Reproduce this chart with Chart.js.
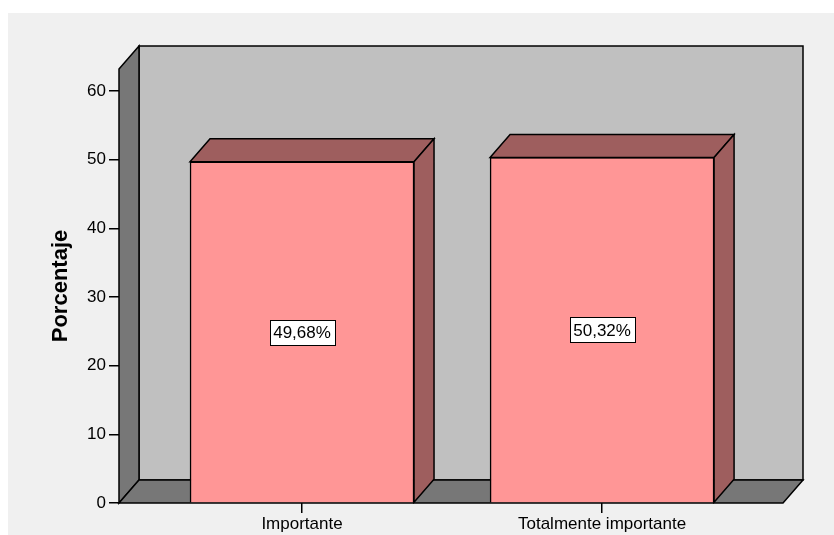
<!DOCTYPE html>
<html>
<head>
<meta charset="utf-8">
<script src="https://cdn.jsdelivr.net/npm/chart.js@4/dist/chart.umd.min.js"></script>
<style>
    html, body { margin: 0; padding: 0; background: #ffffff; }
    canvas { display: block; }
</style>
</head>
<body>
<canvas id="chart" width="834" height="535"></canvas>
<script>
// Data
const categories = ['Importante', 'Totalmente importante'];
const percentages = [49.68, 50.32];
const percentLabels = ['49,68%', '50,32%'];
const yTicks = [0, 10, 20, 30, 40, 50, 60];
const yMax = 63.2;

const FONT = '"Liberation Sans", Arial, sans-serif';
const DEPTH_X = 20;
const DEPTH_Y = -23;

function poly(ctx, pts, fill) {
    ctx.beginPath();
    ctx.moveTo(pts[0][0], pts[0][1]);
    for (let i = 1; i < pts.length; i++) ctx.lineTo(pts[i][0], pts[i][1]);
    ctx.closePath();
    ctx.fillStyle = fill;
    ctx.fill();
    ctx.stroke();
}

// Panel background, walls and floor of the 3D frame
const framePlugin = {
    id: 'frame3d',
    beforeDraw(chart) {
        const ctx = chart.ctx;
        ctx.save();
        ctx.fillStyle = '#ffffff';
        ctx.fillRect(0, 0, chart.width, chart.height);
        ctx.fillStyle = '#f0f0f0';
        ctx.fillRect(8, 13, chart.width - 8, chart.height - 13);
        ctx.restore();
    },
    beforeDatasetsDraw(chart) {
        const ctx = chart.ctx;
        const y = chart.scales.y;
        const x = chart.scales.x;
        const l = x.left, r = x.right;
        const t = y.getPixelForValue(yMax), b = y.getPixelForValue(0);
        ctx.save();
        ctx.strokeStyle = '#000';
        ctx.lineWidth = 1.5;
        ctx.lineJoin = 'miter';
        // back wall
        poly(ctx, [[l + DEPTH_X, t + DEPTH_Y], [r + DEPTH_X, t + DEPTH_Y], [r + DEPTH_X, b + DEPTH_Y], [l + DEPTH_X, b + DEPTH_Y]], '#c0c0c0');
        // left wall
        poly(ctx, [[l, t], [l + DEPTH_X, t + DEPTH_Y], [l + DEPTH_X, b + DEPTH_Y], [l, b]], '#777777');
        // floor
        poly(ctx, [[l, b], [l + DEPTH_X, b + DEPTH_Y], [r + DEPTH_X, b + DEPTH_Y], [r, b]], '#777777');
        ctx.restore();
    },
    afterDatasetsDraw(chart) {
        const ctx = chart.ctx;
        const meta = chart.getDatasetMeta(0);
        ctx.save();
        ctx.strokeStyle = '#000';
        ctx.lineWidth = 1.5;
        meta.data.forEach((bar, i) => {
            const p = bar.getProps(['x', 'y', 'base', 'width'], true);
            const x0 = p.x - p.width / 2, x1 = p.x + p.width / 2;
            // top face
            poly(ctx, [[x0, p.y], [x0 + DEPTH_X, p.y + DEPTH_Y], [x1 + DEPTH_X, p.y + DEPTH_Y], [x1, p.y]], '#9e5e5e');
            // side face
            poly(ctx, [[x1, p.y], [x1 + DEPTH_X, p.y + DEPTH_Y], [x1 + DEPTH_X, p.base + DEPTH_Y], [x1, p.base]], '#9e5e5e');
        });
        // value labels
        ctx.lineWidth = 1;
        ctx.font = '17px ' + FONT;
        ctx.textAlign = 'center';
        ctx.textBaseline = 'middle';
        meta.data.forEach((bar, i) => {
            const p = bar.getProps(['x', 'y', 'base'], true);
            const cy = (p.y + p.base) / 2;
            const text = percentLabels[i];
            const w = Math.round(ctx.measureText(text).width) + 7;
            const h = 25;
            const bx = Math.round(p.x - w / 2) + 0.5, by = Math.round(cy - h / 2) + 0.5;
            ctx.fillStyle = '#ffffff';
            ctx.fillRect(bx, by, w, h);
            ctx.strokeRect(bx, by, w, h);
            ctx.fillStyle = '#000';
            ctx.fillText(text, p.x, cy + 1);
        });
        ctx.restore();
    }
};

const ctx = document.getElementById('chart').getContext('2d');
const chart = new Chart(ctx, {
    type: 'bar',
    data: {
        datasets: [{
            data: categories.map((c, i) => ({ x: i, y: percentages[i] })),
            backgroundColor: '#ff9696',
            borderColor: '#000000',
            borderWidth: 1.5,
            barThickness: 224,
            grouped: false
        }]
    },
    options: {
        responsive: false,
        animation: false,
        layout: { padding: { top: 69, right: 51, left: 0, bottom: 0 } },
        plugins: {
            legend: { display: false },
            tooltip: { enabled: false }
        },
        scales: {
            x: {
                type: 'linear',
                offset: false,
                min: -0.61,
                max: 1.603,
                afterFit: (scale) => { scale.height = 32; },
                afterBuildTicks: (scale) => { scale.ticks = categories.map((c, i) => ({ value: i })); },
                grid: { offset: false, drawOnChartArea: false, drawTicks: true, tickLength: 10, color: '#000', lineWidth: 1.5 },
                border: { display: false },
                ticks: {
                    callback: (v) => categories[v] ?? '',
                    color: '#000',
                    font: { family: FONT, size: 17 },
                    padding: 1,
                    maxRotation: 0,
                    autoSkip: false
                }
            },
            y: {
                min: 0,
                max: yMax,
                afterFit: (scale) => { scale.width = 119; },
                afterBuildTicks: (scale) => { scale.ticks = yTicks.map(v => ({ value: v })); },
                grid: { drawOnChartArea: false, drawTicks: true, tickLength: 10, color: '#000', lineWidth: 1.5 },
                border: { display: false },
                ticks: {
                    color: '#000',
                    font: { family: FONT, size: 17 },
                    padding: 3
                },
                title: {
                    display: true,
                    text: 'Porcentaje',
                    color: '#000',
                    font: { family: FONT, size: 22, weight: 'bold' },
                    padding: { top: 48, bottom: 0 }
                }
            }
        }
    },
    plugins: [framePlugin]
});
</script>
</body>
</html>
